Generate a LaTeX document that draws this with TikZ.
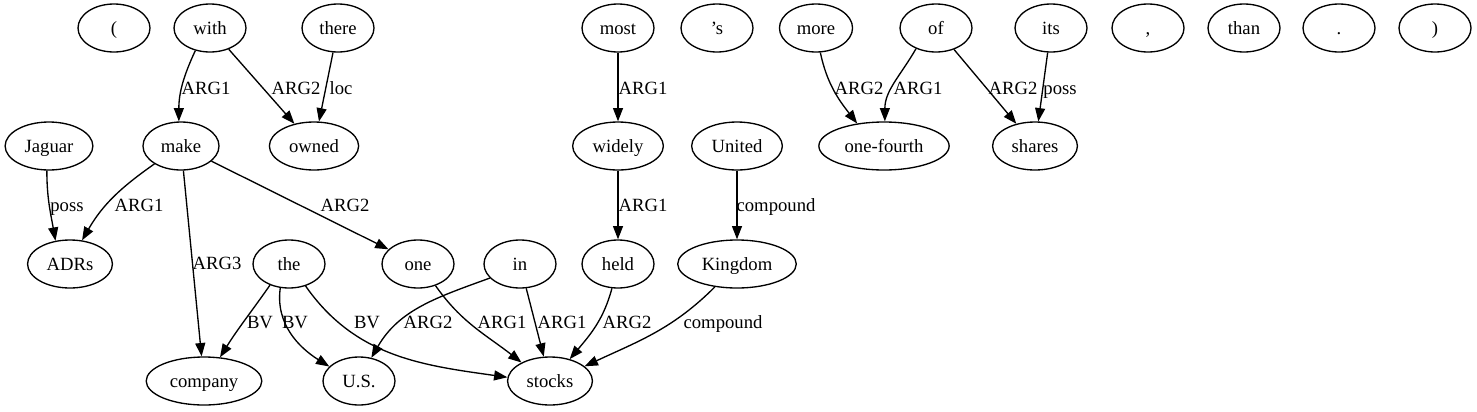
\documentclass[tikz,border=0pt]{standalone}
\usepackage{fontspec}
\setmainfont{Liberation Serif}
\usepackage{tikz}
\usetikzlibrary{
  arrows.meta,
  shapes.geometric
}

\tikzset{
  word/.style={draw,ellipse,line width=1pt,minimum width=54pt,minimum height=36pt,
    inner xsep=5pt,inner ysep=3pt,text height=12pt,text depth=2.5pt,
    font=\fontsize{14pt}{16pt}\selectfont},
  rel/.style={line width=1pt,-{Triangle[length=10pt,width=7.5pt]}},
  lbl/.style={inner sep=0pt,text height=12pt,text depth=2.5pt,
    font=\fontsize{14pt}{16pt}\selectfont}
}

\begin{document}
\begin{tikzpicture}[x=0.75pt,y=-0.75pt]
  \useasboundingbox (0,0) rectangle (1477,411);
  % 1段目
  \node[word] (lpar) at (114,28) {(};
  \node[word] (with) at (210,28) {with};
  \node[word] (there) at (338,28) {there};
  \node[word] (most) at (618,28) {most};
  \node[word] (aps) at (717,28) {’s};
  \node[word] (more) at (816,28) {more};
  \node[word] (of) at (936,28) {of};
  \node[word] (its) at (1051,28) {its};
  \node[word] (comma) at (1148,28) {,};
  \node[word] (than) at (1244,28) {than};
  \node[word] (period) at (1339,28) {.};
  \node[word] (rpar) at (1435,28) {)};
  % 2段目
  \node[word] (jaguar) at (49,146) {Jaguar};
  \node[word] (make) at (181,146) {make};
  \node[word] (owned) at (314,146) {owned};
  \node[word] (widely) at (618,146) {widely};
  \node[word] (united) at (737,146) {United};
  \node[word] (fourth) at (884,146) {one-fourth};
  \node[word] (shares) at (1035,146) {shares};
  % 3段目
  \node[word] (adrs) at (70,264) {ADRs};
  \node[word] (the) at (289,264) {the};
  \node[word] (one) at (418,264) {one};
  \node[word] (in) at (520,264) {in};
  \node[word] (held) at (618,264) {held};
  \node[word] (kingdom) at (737,264) {Kingdom};
  % 4段目
  \node[word] (company) at (204,381) {company};
  \node[word] (us) at (359,381) {U.S.};
  \node[word] (stocks) at (550,381) {stocks};
  % 辺
  \draw[rel] (with.237) to[out=245,in=90] (make.95);
  \draw[rel] (with) -- (owned);
  \draw[rel] (there) -- (owned);
  \draw[rel] (jaguar.265) to[out=270,in=100] (adrs.122);
  \draw[rel] (make.214) to[out=215,in=60] (adrs.63);
  \draw[rel] (make) -- (company);
  \draw[rel] (make) -- (one);
  \draw[rel] (the.228) to[out=235,in=58] (company.56);
  \draw[rel] (the.250) to[out=262,in=148] (us.154);
  \draw[rel] (the.307) to[out=-55,in=172] (stocks.175);
  \draw[rel] (in.205) to[out=200,in=60] (us.62);
  \draw[rel] (one.309) to[out=-55,in=142] (stocks.147);
  \draw[rel] (in) -- (stocks);
  \draw[rel] (held.256) to[out=255,in=50] (stocks.48);
  \draw[rel] (kingdom.226) to[out=225,in=25] (stocks.23);
  \draw[rel] (most) -- (widely);
  \draw[rel] (widely) -- (held);
  \draw[rel] (united) -- (kingdom);
  \draw[rel] (more.280) to[out=-78,in=128] (fourth.140);
  \draw[rel] (of.226) to[out=240,in=90] (fourth.88);
  \draw[rel] (of) -- (shares);
  \draw[rel] (its) -- (shares);
  % ラベル
  \node[lbl] (lwithmake) at (206,88) {ARG1};
  \node[lbl] (lwithowned) at (296,88) {ARG2};
  \node[lbl] (lthere) at (341,88) {loc};
  \node[lbl] (ljaguar) at (67,205) {poss};
  \node[lbl] (lmakeadrs) at (139,205) {ARG1};
  \node[lbl] (lmakecomp) at (217,263) {ARG3};
  \node[lbl] (lmakeone) at (345,205) {ARG2};
  \node[lbl] (lthecomp) at (260,322) {BV};
  \node[lbl] (ltheus) at (295,322) {BV};
  \node[lbl] (lthestocks) at (367,322) {BV};
  \node[lbl] (linus) at (428,322) {ARG2};
  \node[lbl] (lone) at (502,322) {ARG1};
  \node[lbl] (linstocks) at (562,322) {ARG1};
  \node[lbl] (lheld) at (627,322) {ARG2};
  \node[lbl] (lkingdom) at (723,322) {compound};
  \node[lbl] (lmost) at (643,88) {ARG1};
  \node[lbl] (lwidely) at (643,205) {ARG1};
  \node[lbl] (lunited) at (776,205) {compound};
  \node[lbl] (lmore) at (859,88) {ARG2};
  \node[lbl] (lofourth) at (918,88) {ARG1};
  \node[lbl] (lofshares) at (1013,88) {ARG2};
  \node[lbl] (lits) at (1060,88) {poss};
\end{tikzpicture}
\end{document}
